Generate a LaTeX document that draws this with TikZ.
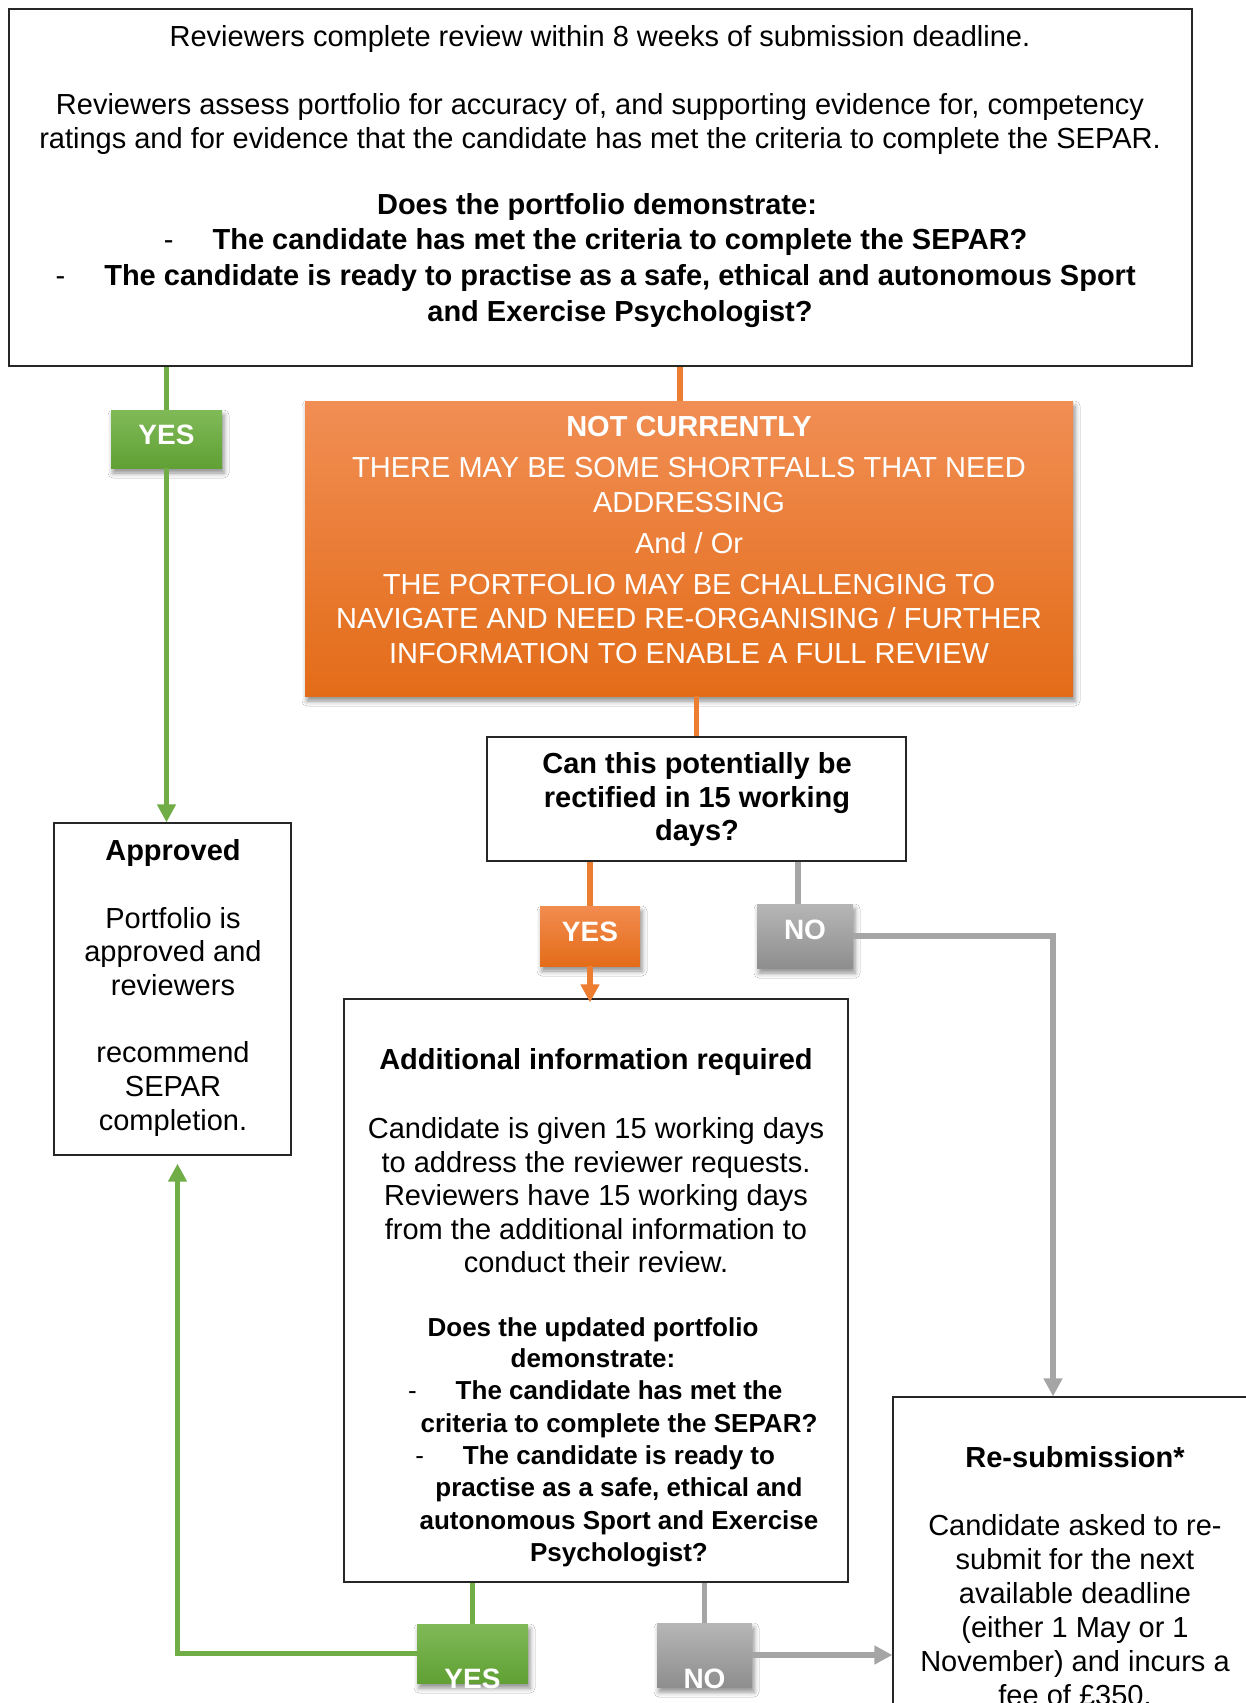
\documentclass[tikz,border=0pt]{standalone}
\usepackage{fontspec}
\setmainfont{Liberation Sans}
\usetikzlibrary{arrows.meta,shadows,shadows.blur}
\definecolor{cgreen}{RGB}{112,173,71}
\definecolor{corange}{RGB}{237,125,49}
\definecolor{cgray}{RGB}{165,165,165}
\newcommand{\fst}{\rule{0pt}{24pt}}
\newcommand{\dsh}{\llap{\mdseries-\hspace{39pt}}}
\tikzset{
  box/.style={draw=black!85, line width=1.3pt, fill=white, inner sep=0pt},
  shd/.style={blur shadow={shadow xshift=2pt, shadow yshift=-5pt, shadow blur radius=5pt, shadow opacity=45}},
  obox/.style={inner sep=0pt, top color={rgb,255:red,241;green,142;blue,84}, bottom color={rgb,255:red,227;green,108;blue,24}, shd},
  lab/.style={inner sep=0pt, shd},
  glab/.style={lab, top color={rgb,255:red,128;green,186;blue,88}, bottom color={rgb,255:red,96;green,160;blue,52}},
  olab/.style={lab, top color={rgb,255:red,242;green,140;blue,80}, bottom color={rgb,255:red,228;green,108;blue,24}},
  ylab/.style={lab, top color={rgb,255:red,182;green,182;blue,182}, bottom color={rgb,255:red,142;green,142;blue,142}},
  labtxt/.style={inner sep=0pt, text=white, font=\fontsize{28}{30}\selectfont\bfseries},
  txt/.style={align=center, inner sep=0pt, anchor=north, font=\fontsize{29}{34}\selectfont},
  conn/.style={line width=5.5pt},
  tip/.style={-{Triangle[width=18pt,length=18pt]}},
}
\begin{document}
\begin{tikzpicture}[x=1pt,y=-1pt]
\useasboundingbox (0,0) rectangle (1246,1703);
\fill[white] (0,0) rectangle (1246,1703);
\clip (0,0) rectangle (1246,1703);

% boxes
\node[box, minimum width=1183pt, minimum height=357pt] (top) at (600.5,187.5) {};
\node[obox, minimum width=768pt, minimum height=295pt] (orange) at (689,548.5) {};
\node[box, minimum width=419pt, minimum height=124pt] (q) at (696.5,799) {};
\node[box, minimum width=237pt, minimum height=332pt] (appr) at (172.5,989) {};
\node[box, minimum width=504pt, minimum height=583pt] (add) at (596,1290.5) {};
\node[box, minimum width=362pt, minimum height=420pt] (resub) at (1074,1607) {};

% labels
\node[glab, minimum width=111pt, minimum height=58pt] (yes1) at (166.5,439) {};
\node[olab, minimum width=100pt, minimum height=60pt] (yes2) at (590,936) {};
\node[ylab, minimum width=96pt, minimum height=64pt] (no1) at (805,936) {};
\node[glab, minimum width=111pt, minimum height=59pt] (yes3) at (472.5,1653.5) {};
\node[ylab, minimum width=95pt, minimum height=64pt] (no3) at (704.5,1655) {};

% connectors
\draw[conn, cgreen] (yes1 |- top.south) -- (yes1.north);
\draw[conn, cgreen, tip] (yes1.south) -- (yes1 |- appr.north);
\draw[conn, corange] ([xshift=-9pt]orange.north |- top.south) -- ([xshift=-9pt]orange.north);
\draw[conn, corange] (q.north |- orange.south) -- (q.north);
\draw[conn, corange] (yes2 |- q.south) -- (yes2.north);
\draw[conn, corange, tip, shorten >=-4pt] (yes2.south) -- (yes2 |- add.north);
\draw[conn, cgray] ([xshift=-7pt]no1.north |- q.south) -- ([xshift=-7pt]no1.north);
\draw[conn, cgray, tip] (no1.east) -| ([xshift=-21pt]resub.north);
\draw[conn, cgreen] (yes3 |- add.south) -- (yes3.north);
\draw[conn, cgreen, tip, shorten >=8pt] (yes3.west) -| ([xshift=5pt]appr.south);
\draw[conn, cgray] (no3 |- add.south) -- (no3.north);
\draw[conn, cgray, tip] (no3.east) -- (no3.east -| resub.west);

% label texts
\node[labtxt] (yes1t) at (166.5,434.5) {YES};
\node[labtxt] (yes2t) at (590,932) {YES};
\node[labtxt] (no1t) at (805,930) {NO};
\node[labtxt] (yes3t) at (472.5,1679) {YES};
\node[labtxt] (no3t) at (704.5,1679) {NO};

% top box text
\node[txt] (t1) at (600,22.5) {\fst Reviewers complete review within 8 weeks of submission deadline.\\[34pt]
Reviewers assess portfolio for accuracy of, and supporting evidence for, competency\\
ratings and for evidence that the candidate has met the criteria to complete the SEPAR.};
\node[txt, font=\fontsize{29}{35.7}\selectfont\bfseries] (t2) at (597,190.5) {\fst Does the portfolio demonstrate:};
\node[txt, font=\fontsize{29}{35.7}\selectfont\bfseries] (t3) at (620,225.5) {\fst\dsh The candidate has met the criteria to complete the SEPAR?\\
\dsh The candidate is ready to practise as a safe, ethical and autonomous Sport\\
and Exercise Psychologist?};

% orange text
\node[txt, text=white, font=\fontsize{29}{34.5}\selectfont] (ot) at (689,412.5) {\fst\textbf{NOT CURRENTLY}\\[6.5pt]
THERE MAY BE SOME SHORTFALLS THAT NEED\\
ADDRESSING\\[6.5pt]
And / Or\\[6.5pt]
THE PORTFOLIO MAY BE CHALLENGING TO\\
NAVIGATE AND NEED RE-ORGANISING / FURTHER\\
INFORMATION TO ENABLE A FULL REVIEW};

% question text
\node[txt, font=\fontsize{29}{33.5}\selectfont\bfseries] (qt) at (697,749.5) {\fst Can this potentially be\\ rectified in 15 working\\ days?};

% approved text
\node[txt, font=\fontsize{29}{33.7}\selectfont] (at) at (173,836.5) {\fst\textbf{Approved}\\[33.7pt]
Portfolio is\\ approved and\\ reviewers\\[33.7pt]
recommend\\ SEPAR\\ completion.};

% additional text
\node[txt, font=\fontsize{29}{33.5}\selectfont] (adt) at (596,1045.5) {\fst\textbf{Additional information required}\\[35.5pt]
Candidate is given 15 working days\\
to address the reviewer requests.\\
Reviewers have 15 working days\\
from the additional information to\\
conduct their review.};
\node[txt, font=\fontsize{26}{31}\selectfont\bfseries] (adq) at (593,1312.4) {\fst Does the updated portfolio\\ demonstrate:};
\node[txt, font=\fontsize{26}{32.4}\selectfont\bfseries] (adb) at (619,1375.4) {\fst\dsh The candidate has met the\\
criteria to complete the SEPAR?\\
\dsh The candidate is ready to\\
practise as a safe, ethical and\\
autonomous Sport and Exercise\\
Psychologist?};

% resubmission text
\node[txt, font=\fontsize{29}{34}\selectfont] (rt) at (1075,1443.5) {\fst\textbf{Re-submission*}\\[34pt]
Candidate asked to re-\\
submit for the next\\
available deadline\\
(either 1 May or 1\\
November) and incurs a\\
fee of £350.};
\end{tikzpicture}
\end{document}
